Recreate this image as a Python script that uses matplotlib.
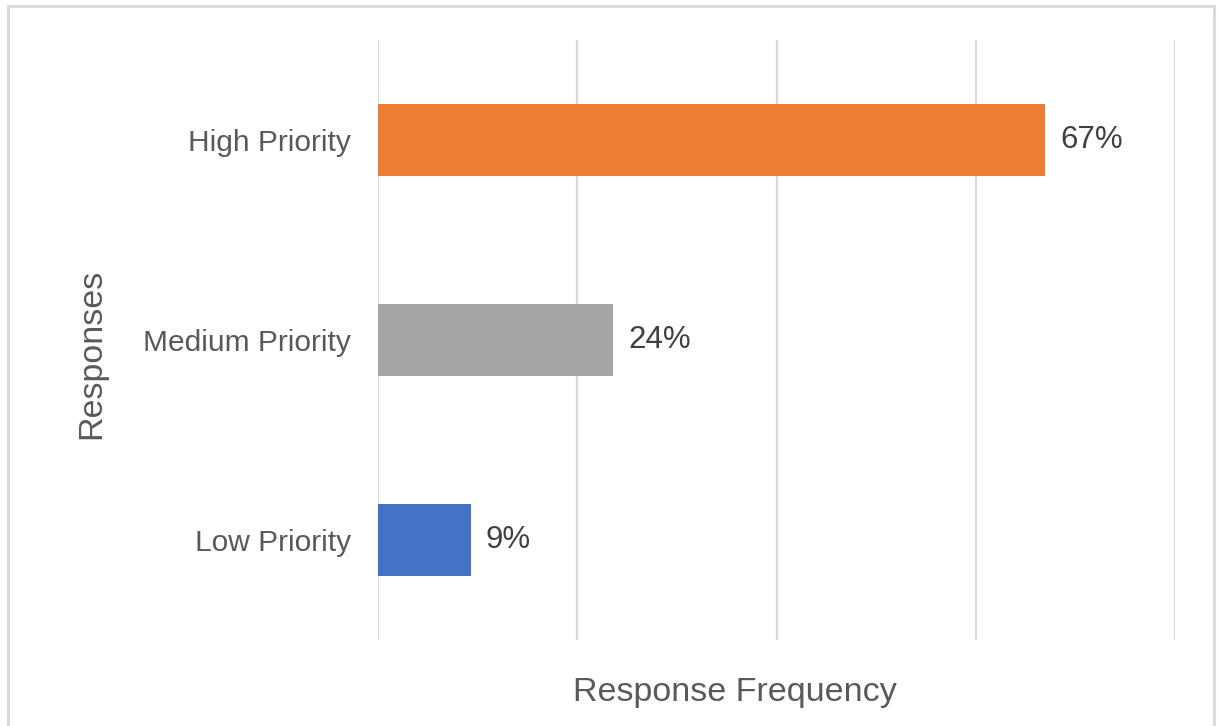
import matplotlib.pyplot as plt
from matplotlib.patches import Rectangle

plt.rcParams['font.family'] = ['Liberation Sans', 'DejaVu Sans']

# datos del grafico
categorias = ['Low Priority', 'Medium Priority', 'High Priority']
valores = [0.093, 0.236, 0.67]
colores = ['#4472C4', '#A5A5A5', '#ED7D31']
etiquetas = ['9%', '24%', '67%']
ticks_x = [0, 0.2, 0.4, 0.6, 0.8]

fig = plt.figure(figsize=(12.19, 7.26), dpi=100)
ax = fig.add_axes([378/1219, 1 - 640/726, (1175 - 378)/1219, 600/726])

y = range(len(categorias))
barras = ax.barh(y, valores, height=0.36, color=colores, zorder=3)
for b, txt in zip(barras, etiquetas):
    ax.text(b.get_width() + 0.015, b.get_y() + b.get_height()/2, txt,
            va='center', ha='left', fontsize=22.5, color='#404040')

ax.set_xlim(0, 0.8)
ax.set_ylim(-0.5, 2.5)
ax.set_xticks(ticks_x)
ax.set_xticklabels([])
ax.set_yticks(list(y))
ax.set_yticklabels(categorias, fontsize=21.5, color='#595959')
ax.tick_params(length=0, pad=19.5)
ax.grid(axis='x', color='#d9d9d9', linewidth=1.6, zorder=0)
for s in ax.spines.values():
    s.set_visible(False)

fig.text(735/1219, 1 - 693/726, 'Response Frequency', ha='center', va='center',
         fontsize=24.5, color='#595959')
fig.text(92/1219, 1 - 354/726, 'Responses', ha='center', va='center',
         rotation=90, fontsize=24.5, color='#595959')

# marco gris del grafico
fig.add_artist(Rectangle((7.5/1219, -0.1), (1214 - 7.5)/1219, 1.1 - 5.5/726,
                         transform=fig.transFigure, fill=False,
                         edgecolor='#d9d9d9', linewidth=2.2, clip_on=False))

fig.savefig('out.png', dpi=100)
